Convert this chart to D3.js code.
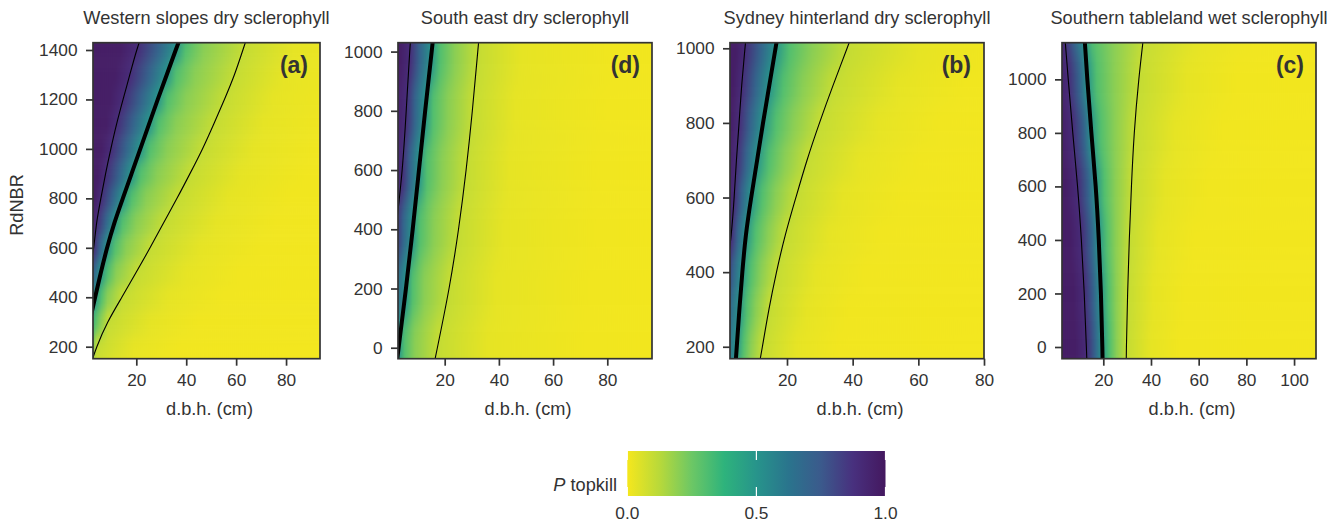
<!DOCTYPE html>
<html lang="en">
<head>
  <meta charset="UTF-8">
  <script src="https://d3js.org/d3.v7.min.js"></script>
  <title>P topkill</title>
  <style>
    html, body { margin: 0; padding: 0; background: #fff; }
    svg { display: block; }
    text { font-family: "Liberation Sans", Arial, sans-serif; fill: #333; }
    .tick text { font-size: 17.3px; }
  </style>
</head>
<body>
  <script>
    /* P levels of the isolines, one row of each table per level */
    const levels = [0.97, 0.9, 0.7, 0.5, 0.3, 0.2, 0.1, 0.03, 0.008];

    /* Western slopes (a): d.b.h. where P reaches each level, per RdNBR (rows run a bit past the frame) */
    const westRdnbr = [100, 200, 300, 400, 500, 600, 700, 800, 900, 1000, 1100, 1200, 1300, 1400, 1500];
    const westDbh = [
      [-22, -18, -14, -10, -6, -2, 1.5, 3.2, 4.5, 6, 8, 9.5, 11.5, 13.5, 15.5],
      [-8, -6, -4, -1.5, 1, 2.9, 4.1, 5.8, 7.7, 9.8, 12.1, 14.7, 17.4, 20.2, 23.5],
      [-7, -5, -2, 0.5, 3, 5.5, 7.8, 10.5, 13.3, 16, 18.8, 22, 25.3, 28.8, 32.5],
      [-3.5, -1.5, 1.2, 3.5, 5.8, 8.3, 11.2, 14.6, 18.1, 21.6, 25.1, 28.6, 32.2, 35.8, 39.5],
      [-1, 0.7, 3.5, 6.1, 8.8, 11.5, 14.5, 18.2, 21.8, 25.5, 29, 32.5, 36, 39.7, 43.5],
      [0, 2.8, 5.8, 8.5, 12, 16, 20, 24, 28.5, 32.5, 36, 40, 43.5, 47, 50.5],
      [0.8, 4.2, 8.6, 14.2, 19.9, 25.5, 30.9, 36.3, 41.5, 46.5, 51, 55.3, 59.3, 62.7, 66],
      [11, 19, 26, 33, 40, 46, 52, 57, 62, 67, 71, 75, 79, 83, 87],
      [30, 38, 45, 55, 62, 70, 76, 82, 88, 93, 98, 103, 108, 112, 117]
    ];

    /* South east (d) */
    const southEastRdnbr = [-200, 0, 200, 400, 600, 800, 1000, 1200];
    const southEastDbh = [
      [-16, -11, -8, -4, -1, 1.5, 3.5, 5.5],
      [-6, -3, -0.5, 2, 4.3, 5.8, 7.1, 8.6],
      [-4, -0.5, 2, 4.7, 7.2, 9, 10.8, 12.6],
      [0.3, 3, 5.7, 8.2, 10.5, 12.8, 15.2, 17.5],
      [2.4, 5.3, 8.2, 10.9, 13.5, 15.8, 18.4, 21],
      [5.5, 9, 12.5, 16, 19, 21.3, 23.7, 26],
      [12.8, 17.3, 21.6, 25.1, 27.9, 30.2, 32.2, 34.2],
      [32, 36, 39, 42, 44, 46, 48.5, 51],
      [70, 72, 74, 76, 78, 80, 83, 86]
    ];

    /* Sydney hinterland (b) */
    const sydneyRdnbr = [100, 200, 300, 400, 500, 600, 700, 800, 900, 1000, 1100];
    const sydneyDbh = [
      [-9, -7.5, -6, -4, -1.5, 0.5, 1.8, 2.8, 3.6, 4.5, 5.4],
      [-4, -2, -0.5, 1.5, 3, 3.9, 4.6, 5.4, 6.2, 7.2, 8.2],
      [0.2, 1.2, 2.3, 3.6, 5, 6.2, 7.6, 8.9, 10.4, 12, 13.7],
      [3.9, 4.7, 5.5, 6.4, 7.5, 9.1, 10.9, 12.7, 14.6, 16.5, 18.4],
      [5.5, 6.8, 7.8, 9, 10.5, 12.4, 14.6, 16.7, 18.9, 20.8, 23],
      [7.5, 9, 10.5, 12.2, 14.3, 16.5, 19.3, 22, 24.8, 27.6, 31],
      [10.5, 12.5, 14.5, 16.8, 19.5, 22.7, 26.1, 29.9, 34, 38.3, 42.5],
      [20, 23, 26, 29, 33, 37, 42, 48, 54, 60, 66],
      [32, 36, 39, 44, 49, 55, 61, 67, 74, 81, 88]
    ];

    /* Southern tableland (c) */
    const tablelandRdnbr = [-200, 0, 200, 400, 600, 800, 1000, 1200];
    const tablelandDbh = [
      [8.8, 8.2, 7.5, 6.2, 4.3, 2.2, 0, -2],
      [13.7, 12.9, 12, 10.8, 9.2, 7.2, 5.3, 3.5],
      [17.2, 16.6, 16, 15.2, 13.8, 12, 10, 7.5],
      [20, 19.6, 19, 18.1, 16.8, 15, 13.3, 11.8],
      [23, 22.7, 22.2, 21.5, 20.5, 19, 17.3, 15.4],
      [25.6, 25.6, 25.4, 25.2, 25, 24.8, 24.5, 24.5],
      [29.4, 29.7, 30.2, 30.9, 31.8, 33, 34.9, 37.4],
      [40, 40, 41, 43, 46, 50, 55, 61],
      [52, 52, 54, 58, 64, 70, 76, 85]
    ];

    const titles = ["Western slopes dry sclerophyll", "South east dry sclerophyll", "Sydney hinterland dry sclerophyll", "Southern tableland wet sclerophyll"];
    const tags = ["(a)", "(d)", "(b)", "(c)"];
    const dbhTicks = [[20, 40, 60, 80], [20, 40, 60, 80], [20, 40, 60, 80], [20, 40, 60, 80, 100]];
    const rdnbrTicks = [[200, 400, 600, 800, 1000, 1200, 1400], [0, 200, 400, 600, 800, 1000], [200, 400, 600, 800, 1000], [0, 200, 400, 600, 800, 1000]];
    const barTicks = [0, 0.5, 1];

    /* colour map: printed viridis, reversed */
    const colourP = [0, 0.125, 0.25, 0.375, 0.5, 0.625, 0.75, 0.875, 1];
    const colourHex = ["#f5e71d", "#b8d93a", "#6cc765", "#2eb37c", "#27948b", "#2a748d", "#3b5a8c", "#48307e", "#44185f"];
    const colour = d3.scaleLinear().domain(colourP).range(colourHex);

    const width = 1340, height = 522;
    const svg = d3.select("body").append("svg").attr("width", width).attr("height", height);
    const defs = svg.append("defs");

    /*=============*/
    /* One heatmap */
    /*=============*/
    function drawPanel(i, rows, table, xDomain, xRange, yDomain, blur, tagRight) {
      const top = 42.7, bottom = 358.7;
      const x = d3.scaleLinear().domain(xDomain).range(xRange);
      const y = d3.scaleLinear().domain(yDomain).range([bottom, top]);
      const g = svg.append("g");
      const farLeft = -60, farRight = xDomain[1] + 60;

      defs.append("clipPath").attr("id", "clip" + i).append("rect")
        .attr("x", xRange[0]).attr("y", top)
        .attr("width", xRange[1] - xRange[0]).attr("height", bottom - top);

      const filter = defs.append("filter").attr("id", "blur" + i)
        .attr("filterUnits", "userSpaceOnUse")
        .attr("x", xRange[0] - 10).attr("y", top - 100)
        .attr("width", xRange[1] - xRange[0] + 20).attr("height", bottom - top + 200)
        .attr("color-interpolation-filters", "sRGB");
      filter.append("feGaussianBlur").attr("stdDeviation", "0 " + blur);

      // each RdNBR row is a strip with a horizontal gradient through its isolines
      rows.forEach((r, k) => {
        const grad = defs.append("linearGradient").attr("id", `row${i}-${k}`)
          .attr("gradientUnits", "userSpaceOnUse")
          .attr("x1", x(farLeft)).attr("x2", x(farRight)).attr("y1", 0).attr("y2", 0);
        const stops = [[farLeft, 1]].concat(levels.map((p, l) => [table[l][k], p]), [[farRight, 0]]);
        stops.forEach(s => {
          grad.append("stop")
            .attr("offset", (x(s[0]) - x(farLeft)) / (x(farRight) - x(farLeft)))
            .attr("stop-color", colour(s[1]));
        });
      });

      const heat = g.append("g").attr("clip-path", `url(#clip${i})`)
        .append("g").attr("filter", `url(#blur${i})`);
      heat.selectAll("rect").data(rows).enter().append("rect")
        .attr("x", xRange[0] - 5)
        .attr("width", xRange[1] - xRange[0] + 10)
        .attr("y", (d, k) => k === rows.length - 1 ? y(d) - 90 : y((d + rows[k + 1]) / 2))
        .attr("height", (d, k) => {
          const y0 = k === 0 ? y(d) + 90 : y((d + rows[k - 1]) / 2);
          const y1 = k === rows.length - 1 ? y(d) - 90 : y((d + rows[k + 1]) / 2);
          return y0 - y1;
        })
        .attr("fill", (d, k) => `url(#row${i}-${k})`);

      // isolines at 0.9, 0.5, 0.1
      const line = d3.line().x(d => x(d[0])).y(d => y(d[1])).curve(d3.curveNatural);
      const lines = g.append("g").attr("clip-path", `url(#clip${i})`);
      [[1, 1.1], [3, 4], [6, 1.1]].forEach(c => {
        lines.append("path")
          .attr("d", line(rows.map((r, k) => [table[c[0]][k], r])))
          .attr("fill", "none").attr("stroke", "#000").attr("stroke-width", c[1]);
      });

      // frame and axes
      g.append("rect").attr("x", xRange[0]).attr("y", top)
        .attr("width", xRange[1] - xRange[0]).attr("height", bottom - top)
        .attr("fill", "none").attr("stroke", "#333").attr("stroke-width", 1.7);

      const xAxis = d3.axisBottom(x).tickValues(dbhTicks[i]).tickSize(7).tickPadding(8).tickFormat(d3.format("d"));
      const yAxis = d3.axisLeft(y).tickValues(rdnbrTicks[i]).tickSize(7).tickPadding(8.5).tickFormat(d3.format("d"));
      g.append("g").attr("transform", `translate(0,${bottom})`).call(xAxis)
        .call(a => a.select(".domain").remove())
        .call(a => a.selectAll("line").attr("stroke", "#333").attr("stroke-width", 1.7));
      g.append("g").attr("transform", `translate(${xRange[0]},0)`).call(yAxis)
        .call(a => a.select(".domain").remove())
        .call(a => a.selectAll("line").attr("stroke", "#333").attr("stroke-width", 1.7));

      const mid = (xRange[0] + xRange[1]) / 2;
      g.append("text").attr("x", mid).attr("y", 24).attr("text-anchor", "middle")
        .style("font-size", "18.2px").text(titles[i]);
      g.append("text").attr("x", mid + 3).attr("y", 415).attr("text-anchor", "middle")
        .style("font-size", "18.2px").text("d.b.h. (cm)");
      g.append("text").attr("x", tagRight).attr("y", 73).attr("text-anchor", "end")
        .style("font-size", "23px").style("font-weight", "bold").text(tags[i]);
    }

    drawPanel(0, westRdnbr, westDbh, [2.65, 93.6], [93, 320], [151.5, 1429.5], 7, 308);
    drawPanel(1, southEastRdnbr, southEastDbh, [2.77, 96.5], [398, 652], [-37, 1030], 12, 640);
    drawPanel(2, sydneyRdnbr, sydneyDbh, [2.64, 80], [730, 984], [168, 1015], 10, 971);
    drawPanel(3, tablelandRdnbr, tablelandDbh, [2.68, 109.2], [1062, 1316], [-43.7, 1137], 12, 1304);

    svg.append("text").attr("transform", "translate(23,205) rotate(-90)")
      .attr("text-anchor", "middle").style("font-size", "18.2px").text("RdNBR");

    /*==========*/
    /* Colorbar */
    /*==========*/
    const barX = d3.scaleLinear().domain([0, 1]).range([627.3, 885.5]);
    const barTop = 451, barBottom = 496;
    const barGrad = defs.append("linearGradient").attr("id", "bar");
    colourP.forEach((p, k) => barGrad.append("stop").attr("offset", p).attr("stop-color", colourHex[k]));
    svg.append("rect").attr("x", barX(0)).attr("y", barTop)
      .attr("width", barX(1) - barX(0)).attr("height", barBottom - barTop).attr("fill", "url(#bar)");

    barTicks.forEach(t => {
      [[barTop, barTop + 9], [barBottom - 9, barBottom]].forEach(e => {
        svg.append("line").attr("x1", barX(t)).attr("x2", barX(t)).attr("y1", e[0]).attr("y2", e[1])
          .attr("stroke", "#fff").attr("stroke-width", 1.2);
      });
      svg.append("text").attr("x", barX(t)).attr("y", 519).attr("text-anchor", "middle")
        .style("font-size", "17.3px").text(d3.format(".1f")(t));
    });

    const barLabel = svg.append("text").attr("x", 617).attr("y", 491).attr("text-anchor", "end").style("font-size", "18.2px");
    barLabel.append("tspan").style("font-style", "italic").text("P");
    barLabel.append("tspan").text(" topkill");
  </script>
</body>
</html>
